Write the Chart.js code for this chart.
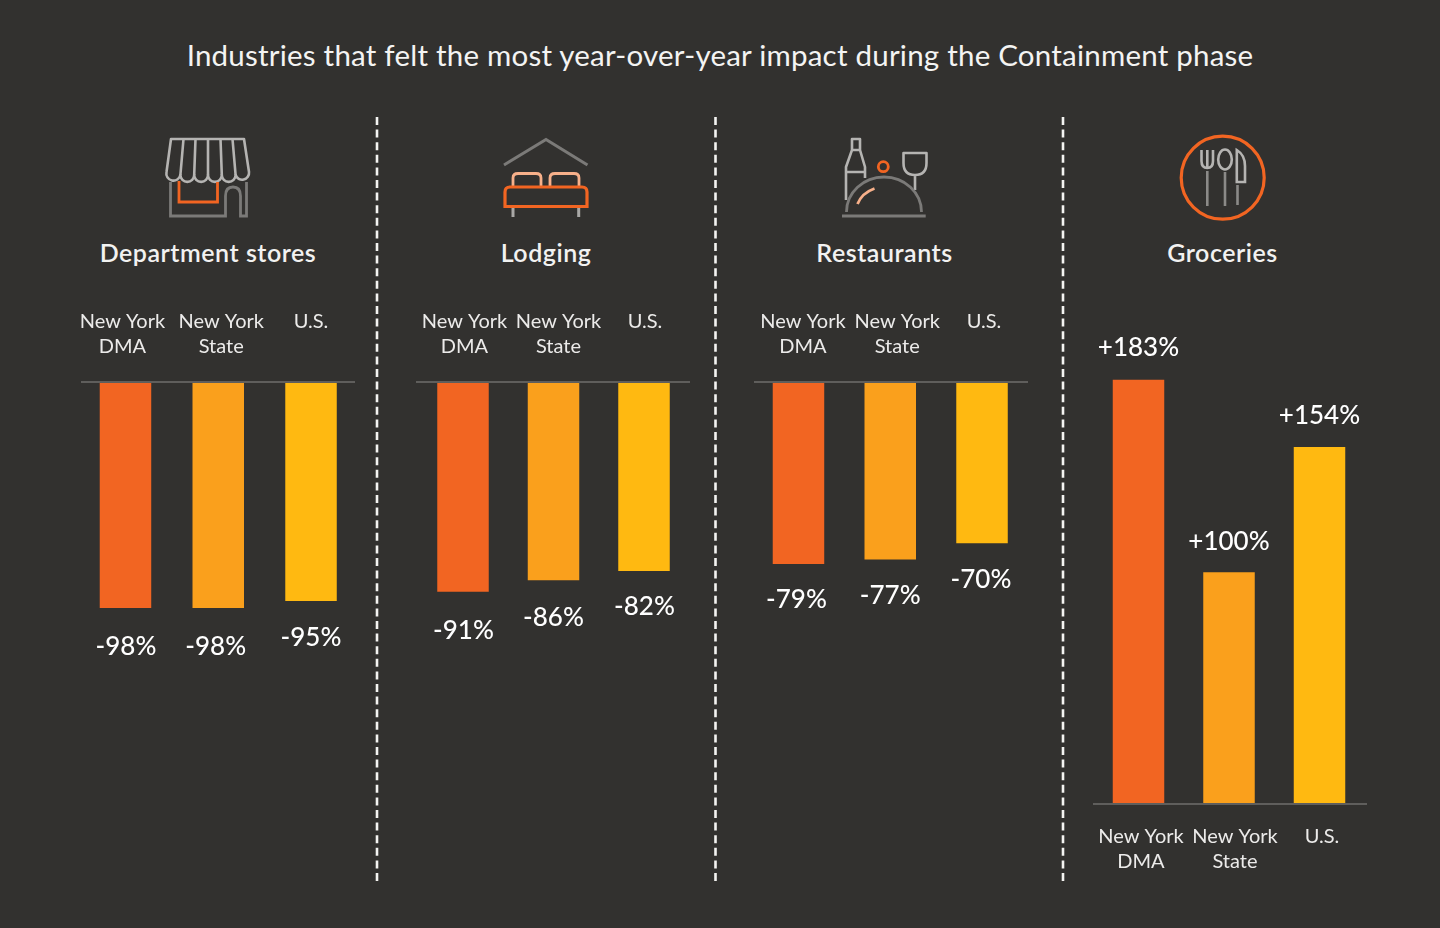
<!DOCTYPE html>
<html>
<head>
<meta charset="utf-8">
<script src="https://cdn.jsdelivr.net/npm/chart.js@4/dist/chart.umd.min.js"></script>
<style>
html,body{margin:0;padding:0;background:#32312f;}
#stage{position:relative;width:1440px;height:928px;overflow:hidden;background:#32312f;font-family:Lato,sans-serif;color:#fff;}
.t{position:absolute;white-space:nowrap;transform:translate(-50%,-50%);}
#title{left:720px;top:54px;font-size:29.5px;letter-spacing:.22px;color:#f4f4f3;}
.h{top:252px;font-size:25px;font-weight:600;letter-spacing:.53px;color:#f2f2f1;}
canvas{position:absolute;}
svg{position:absolute;left:0;top:0;}
</style>
</head>
<body>
<div id="stage">
<svg width="1440" height="928" fill="none" stroke-linecap="butt">
  <g stroke="#f4f4f2" stroke-width="2.6" stroke-dasharray="8 4.6">
    <line x1="377" y1="117" x2="377" y2="882"/>
    <line x1="715.5" y1="117" x2="715.5" y2="882"/>
    <line x1="1063" y1="117" x2="1063" y2="882"/>
  </g>
  <!-- store -->
  <g stroke="#b5b4b2" stroke-width="2.6" stroke-linejoin="round">
    <path d="M171 139H244L249 172A6.9 6.9 0 0 1 235.6 175A6.9 6.9 0 0 1 221.8 175A6.9 6.9 0 0 1 208 175A6.9 6.9 0 0 1 194.2 175A6.9 6.9 0 0 1 180.4 175A6.9 6.9 0 0 1 166.5 172Z"/>
    <path d="M183.5 139L180.4 175M195.5 139L194.2 175M208 139V175M220.5 139L221.8 175M232.5 139L235.6 175"/>
  </g>
  <path d="M170.5 182V216H225.5V196Q225.5 187 233 187Q240.5 187 240.5 196V216H246.5V182" stroke="#7b7a78" stroke-width="2.8"/>
  <path d="M179 181V202H217.5V182" stroke="#f26522" stroke-width="2.8"/>
  <!-- bed -->
  <path d="M504 165L546 139.5L587.5 165" stroke="#7b7a78" stroke-width="3"/>
  <path d="M513 186V178Q513 173.5 518 173.5H536Q541 173.5 541 178V186M550 186V178Q550 173.5 555 173.5H574Q579 173.5 579 178V186" stroke="#f7b08a" stroke-width="2.8"/>
  <path d="M513 207V217M578.7 207V217" stroke="#a9a8a6" stroke-width="3"/>
  <path d="M505 206.5V192Q505 187 510 187H582Q587 187 587 192V206.5Z" stroke="#f26522" stroke-width="3.2"/>
  <!-- restaurant -->
  <g stroke="#b5b4b2" stroke-width="2.6" stroke-linejoin="round">
    <path d="M852 139H860V150H852ZM852 150L846 167V200M860 150L865 167V178M846 172H865"/>
    <path d="M903.5 153H926.5V163Q926.5 175 915 175Q903.5 175 903.5 163ZM915 175V190"/>
  </g>
  <circle cx="883.3" cy="166.7" r="5" stroke="#f26522" stroke-width="2.8"/>
  <path d="M846.5 212A37.5 35 0 0 1 921.5 212" stroke="#7b7a78" stroke-width="2.8"/>
  <path d="M842 216H925.7" stroke="#7b7a78" stroke-width="3"/>
  <path d="M857.5 204Q862 193 874.5 188.5" stroke="#f7b08a" stroke-width="2.8"/>
  <!-- groceries -->
  <circle cx="1222.7" cy="177.7" r="41.5" stroke="#f26522" stroke-width="3.2"/>
  <g stroke="#b5b4b2" stroke-width="2.6">
    <path d="M1201.5 150V161Q1201.5 168 1207.3 168Q1213 168 1213 161V150M1207.3 150V168"/>
    <ellipse cx="1225" cy="159.5" rx="6.8" ry="10"/>
    <path d="M1236.8 150V182H1245V166Q1245 155 1236.8 150Z"/>
  </g>
  <path d="M1207.3 171V206M1225 172V206M1237.5 185V205" stroke="#8b8a88" stroke-width="2.6"/>
</svg>
<div id="title" class="t">Industries that felt the most year-over-year impact during the Containment phase</div>
<div class="t h" style="left:208px">Department stores</div>
<div class="t h" style="left:546px">Lodging</div>
<div class="t h" style="left:884.5px">Restaurants</div>
<div class="t h" style="left:1222.5px">Groceries</div>
</div>
<script>
const categories = [['New York','DMA'],['New York','State'],['U.S.','']];
const departmentStores = [-98,-98,-95];
const lodging = [-91,-86,-82];
const restaurants = [-79,-77,-70];
const groceries = [183,100,154];
const barColors = ['#f26522','#faa01c','#ffb911'];

const layouts = [
 {data:departmentStores,canvasLeft:60,canvasWidth:320,top:300,height:360,areaL:79.1,areaR:357.4,axisL:81,axisR:355,min:-120,max:0,padTop:0,axisH:82,pos:'top',tickDx:[-3,3,0],valDx:[0.5,-2.5,0],gap:[38,38,36]},
 {data:lodging,canvasLeft:400,canvasWidth:310,top:300,height:360,areaL:417.75,areaR:689.25,axisL:416,axisR:690,min:-120,max:0,padTop:0,axisH:82,pos:'top',tickDx:[1.5,5,1],valDx:[0.5,0,0.5],gap:[38,36,35]},
 {data:restaurants,canvasLeft:735,canvasWidth:310,top:300,height:360,areaL:752.6,areaR:1027.9,axisL:754,axisR:1028,min:-120,max:0,padTop:0,axisH:82,pos:'top',tickDx:[4.5,7,2],valDx:[-2,0,-1],gap:[35,35,35]},
 {data:groceries,canvasLeft:1075,canvasWidth:310,top:330,height:554,areaL:1093.25,areaR:1364.75,axisL:1093,axisR:1367,min:0,max:190,padTop:33.6,axisH:80,pos:'bottom',tickDx:[2.5,6,2.5],valDx:[0,0,0],gap:[33,32,32]}
];

const panelPlugin = {
  id:'panel',
  beforeDraw(chart,args,o){
    const L=o.layout;
    const x=chart.scales.x;
    const items=x.getLabelItems(chart.chartArea);
    items.forEach((it,i)=>{ if(!it._moved){ it.options.translation[0]+=L.tickDx[i]; it._moved=true; } });
  },
  afterDatasetsDraw(chart,args,o){
    const L=o.layout, ctx=chart.ctx, y=chart.scales.y, x=chart.scales.x;
    const zero=y.getPixelForValue(0);
    ctx.save();
    ctx.strokeStyle='#5f5e5c'; ctx.lineWidth=2;
    ctx.beginPath(); ctx.moveTo(L.axisL-L.canvasLeft,zero); ctx.lineTo(L.axisR-L.canvasLeft,zero); ctx.stroke();
    ctx.fillStyle='#ffffff'; ctx.textAlign='center'; ctx.textBaseline='middle';
    ctx.font='500 26px Lato, sans-serif';
    L.data.forEach((v,i)=>{
      const px=x.getPixelForValue(i)+L.valDx[i];
      const py=y.getPixelForValue(v)+(v<0?L.gap[i]:-L.gap[i])+1;
      ctx.fillText((v>0?'+':'')+v+'%',px,py);
    });
    ctx.restore();
  }
};

const stage=document.getElementById('stage');
layouts.forEach(L=>{
  const c=document.createElement('canvas');
  c.style.left=L.canvasLeft+'px'; c.style.top=L.top+'px';
  c.style.width=L.canvasWidth+'px'; c.style.height=L.height+'px';
  c.width=L.canvasWidth; c.height=L.height;
  stage.appendChild(c);
  const spacing=(L.areaR-L.areaL)/3;
  new Chart(c,{
    type:'bar',
    data:{labels:categories,datasets:[{data:L.data,backgroundColor:barColors,borderWidth:0,barPercentage:51.5/spacing,categoryPercentage:1}]},
    options:{
      responsive:false,animation:false,devicePixelRatio:window.devicePixelRatio||1,
      layout:{padding:{left:L.areaL-L.canvasLeft,right:L.canvasLeft+L.canvasWidth-L.areaR,top:L.padTop,bottom:L.pos==='top'?L.height-L.axisH-(L.max-L.min)*2.305:0}},
      plugins:{legend:{display:false},tooltip:{enabled:false},title:{display:false},panel:{layout:L}},
      scales:{
        x:{position:L.pos,grid:{display:false,drawTicks:true,tickLength:L.pos==='top'?23:20},border:{display:false},
           ticks:{color:'#ecebea',font:{family:'Lato',size:20,lineHeight:1.25},padding:0,maxRotation:0,minRotation:0,autoSkip:false},
           afterFit(s){s.height=L.axisH;}},
        y:{display:false,min:L.min,max:L.max}
      }
    },
    plugins:[panelPlugin]
  });
});
</script>
</body>
</html>
